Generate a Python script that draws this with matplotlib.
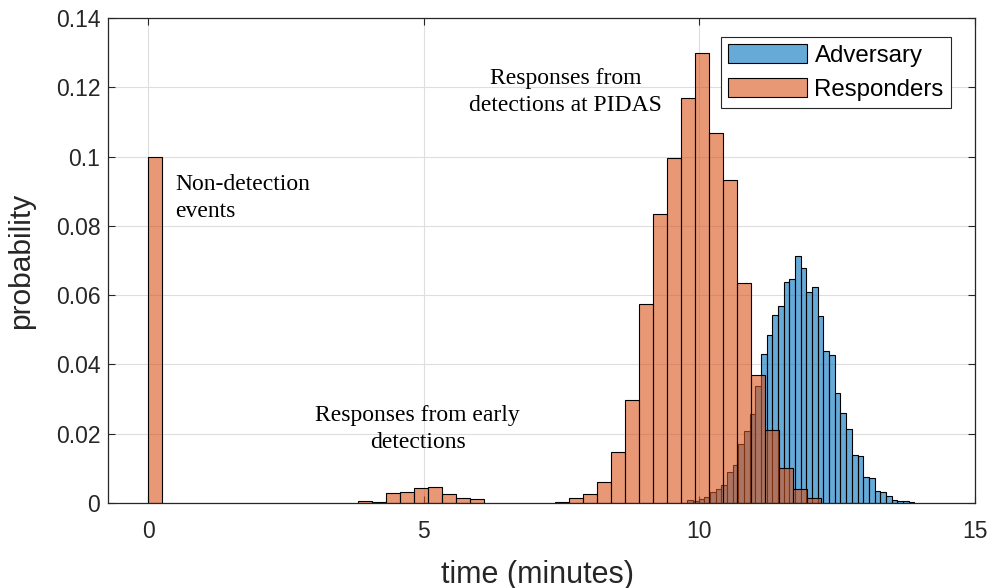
import numpy as np
import matplotlib
matplotlib.use("Agg")
import matplotlib.pyplot as plt
from matplotlib.colors import to_rgba

# histogram bins (minutes)
adv_start, adv_width = 9.782, 0.1029
resp_start, resp_width = -0.013, 0.2547

# probability per bin
adversary = [0.0010, 0.0005, 0.0012, 0.0018, 0.0031, 0.0040, 0.0051, 0.0089,
             0.0111, 0.0171, 0.0209, 0.0257, 0.0338, 0.0430, 0.0485, 0.0542,
             0.0569, 0.0639, 0.0647, 0.0714, 0.0679, 0.0609, 0.0623, 0.0540,
             0.0438, 0.0428, 0.0317, 0.0259, 0.0214, 0.0138, 0.0137, 0.0076,
             0.0073, 0.0035, 0.0031, 0.0020, 0.0010, 0.0007, 0.0007, 0.0002]

responders = [0.1000, 0, 0, 0, 0, 0, 0, 0, 0, 0, 0, 0, 0, 0, 0,
              0.0006, 0.0004, 0.0029, 0.0033, 0.0043, 0.0045, 0.0027, 0.0013, 0.0011,
              0, 0, 0, 0, 0,
              0.0004, 0.0013, 0.0025, 0.0060, 0.0148, 0.0298, 0.0573, 0.0834,
              0.0995, 0.1168, 0.1299, 0.1069, 0.0931, 0.0635, 0.0369, 0.0210,
              0.0101, 0.0040, 0.0015]

series_names = ["Adversary", "Responders"]
blue = (0.0, 0.447, 0.741)
orange = (0.85, 0.325, 0.098)

plt.rcParams["font.family"] = ["Liberation Sans", "DejaVu Sans"]

fig = plt.figure(figsize=(9.89, 5.88), dpi=100)
ax = fig.add_axes([0.1092, 0.1446, 0.8766, 0.8248])

adv_edges = adv_start + adv_width * np.arange(len(adversary))
resp_edges = resp_start + resp_width * np.arange(len(responders))

ax.bar(adv_edges, adversary, width=adv_width, align="edge",
       facecolor=to_rgba(blue, 0.6), edgecolor="black", linewidth=0.8,
       label=series_names[0])
nz = np.array(responders) > 0
ax.bar(resp_edges[nz], np.array(responders)[nz], width=resp_width, align="edge",
       facecolor=to_rgba(orange, 0.6), edgecolor="black", linewidth=0.8,
       label=series_names[1])

ax.set_xlim(-0.73, 15)
ax.set_ylim(0, 0.14)
ax.set_xticks([0, 5, 10, 15])
ax.set_yticks(np.arange(0, 0.141, 0.02))
ax.set_yticklabels(["0", "0.02", "0.04", "0.06", "0.08", "0.1", "0.12", "0.14"])
ax.set_axisbelow(True)
ax.grid(True, color="#dedede", linewidth=0.8)
ax.tick_params(direction="in", top=True, right=True, length=5, width=0.8,
               labelsize=16.5, colors="#262626")
ax.tick_params(axis="x", pad=12)
ax.tick_params(axis="y", pad=5.5)
for s in ax.spines.values():
    s.set_color("#262626")
    s.set_linewidth(0.9)

ax.set_xlabel("time (minutes)", fontsize=22, color="#262626")
ax.set_ylabel("probability", fontsize=21.5, color="#262626")
ax.xaxis.set_label_coords(0.495, -0.117)
ax.yaxis.set_label_coords(-0.084, 0.5)

serif = ["Liberation Serif", "DejaVu Serif"]
ax.text(0.49, 0.0881, "Non-detection\nevents", family=serif, fontsize=17,
        ha="left", va="center", linespacing=1.37)
ax.text(4.89, 0.0213, "Responses from early\ndetections", family=serif, fontsize=17,
        ha="center", va="center", linespacing=1.37)
ax.text(7.57, 0.1187, "Responses from\ndetections at PIDAS", family=serif, fontsize=17,
        ha="center", va="center", linespacing=1.37)

leg = ax.legend(loc="upper right", bbox_to_anchor=(0.9723, 0.9608), fontsize=17.3,
                fancybox=False, framealpha=1, edgecolor="#262626",
                handlelength=3.3, handleheight=0.85, handletextpad=0.3,
                borderpad=0.3, labelspacing=0.45, borderaxespad=0)
leg.get_frame().set_linewidth(0.8)

fig.savefig("out.png", dpi=100)
